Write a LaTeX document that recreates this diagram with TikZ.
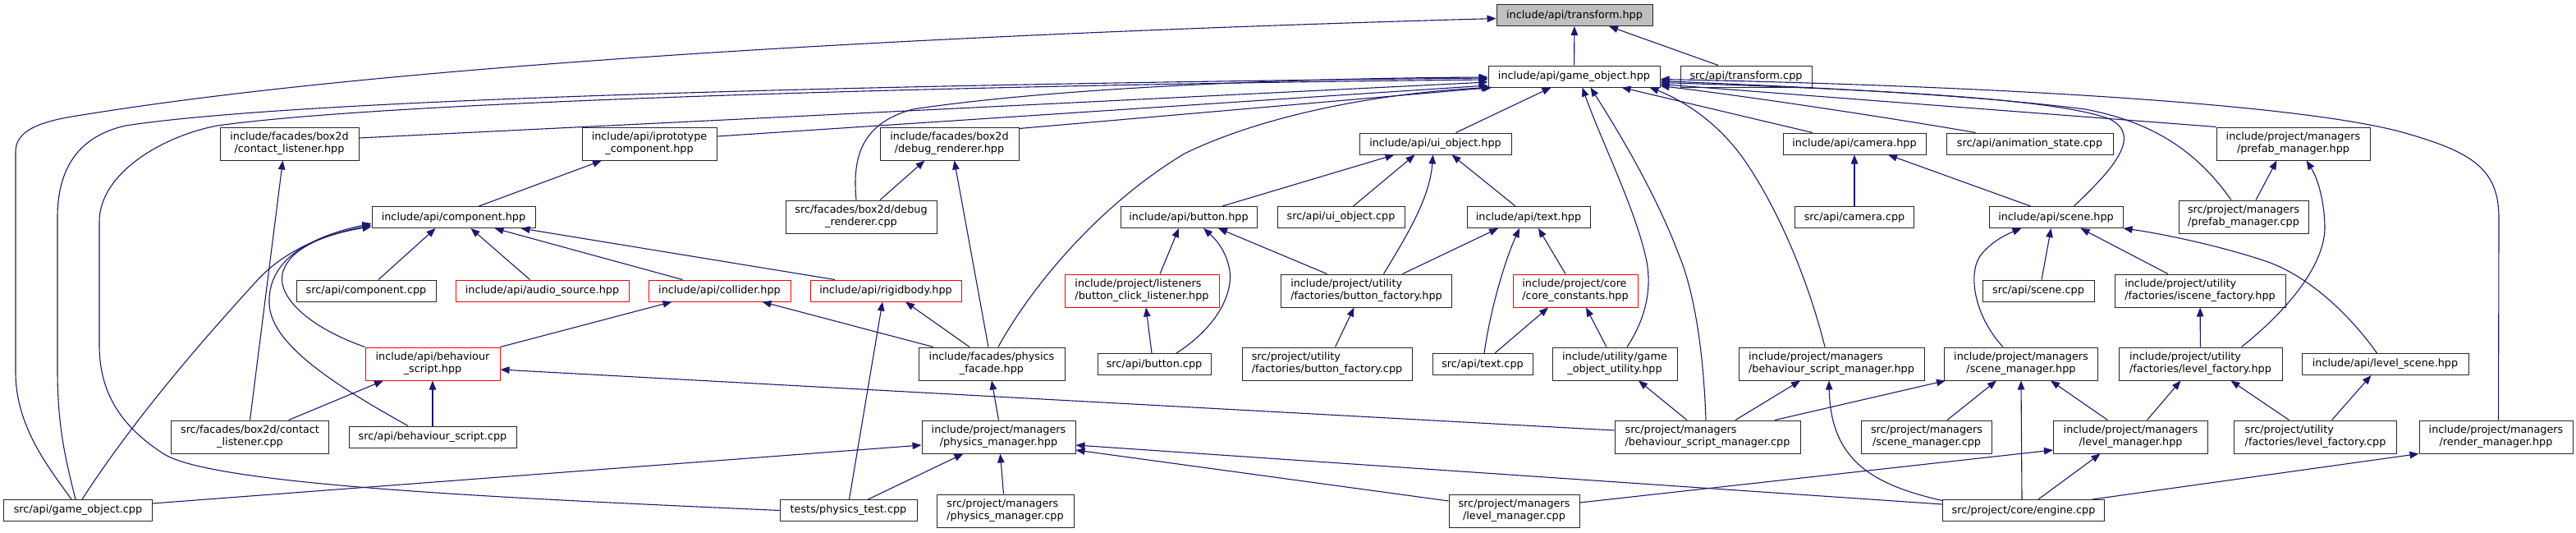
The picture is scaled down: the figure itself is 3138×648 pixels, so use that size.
\documentclass[tikz,border=0pt]{standalone}
\usepackage{fontspec}
\newfontfamily\dejavu{DejaVu Sans}
\usetikzlibrary{arrows.meta}
\definecolor{edgeblue}{HTML}{191970}
\definecolor{hitred}{HTML}{FF0000}
\definecolor{rootgray}{HTML}{BFBFBF}
\tikzset{
    base/.style={draw=black!85, line width=1pt, fill=white, inner sep=0pt, minimum height=26, align=center, font={\dejavu\fontsize{12.8}{15}\selectfont}},
    tall/.style={base, minimum height=40},
    hit/.style={draw=hitred},
    arrow/.style={draw=edgeblue, line width=1.1pt, -{Triangle[length=11pt,width=8.5pt]}}
}
\begin{document}
\begin{tikzpicture}[x=1pt, y=-1pt]
\useasboundingbox (0,0) rectangle (3138,648);
\node[base, fill=rootgray, minimum width=190] (transh) at (1918,18.5) {include/api/transform.hpp};
\node[base, minimum width=209] (goh) at (1917.5,93) {include/api/game\_object.hpp};
\node[base, minimum width=160] (transcpp) at (2127,93) {src/api/transform.cpp};
\node[tall, minimum width=169] (clh) at (352.5,175) {include/facades/box2d\\/contact\_listener.hpp};
\node[tall, minimum width=164] (iproto) at (791,175) {include/api/iprototype\\\_component.hpp};
\node[tall, minimum width=169] (drh) at (1156.5,175) {include/facades/box2d\\/debug\_renderer.hpp};
\node[base, minimum width=185] (uih) at (1748.5,175) {include/api/ui\_object.hpp};
\node[base, minimum width=174] (camh) at (2259,175) {include/api/camera.hpp};
\node[base, minimum width=203] (animcpp) at (2472.5,175) {src/api/animation\_state.cpp};
\node[tall, minimum width=187] (pmh) at (2793.5,175) {include/project/managers\\/prefab\_manager.hpp};
\node[base, minimum width=199] (comph) at (552.5,264.5) {include/api/component.hpp};
\node[tall, minimum width=184] (drcpp) at (1049,264) {src/facades/box2d/debug\\\_renderer.cpp};
\node[base, minimum width=166] (buth) at (1448,264.5) {include/api/button.hpp};
\node[base, minimum width=155] (uicpp) at (1633.5,264.5) {src/api/ui\_object.cpp};
\node[base, minimum width=150] (texth) at (1862,264.5) {include/api/text.hpp};
\node[base, minimum width=145] (camcpp) at (2259,264.5) {src/api/camera.cpp};
\node[base, minimum width=163] (scenh) at (2504.5,264.5) {include/api/scene.hpp};
\node[tall, minimum width=158, align=left] (pmcpp) at (2733,264) {src/project/managers\\/prefab\_manager.cpp};
\node[base, minimum width=170] (compcpp) at (446,354) {src/api/component.cpp};
\node[base, hit, minimum width=211] (audioh) at (660.5,354) {include/api/audio\_source.hpp};
\node[base, hit, minimum width=173] (collh) at (876.5,354) {include/api/collider.hpp};
\node[base, hit, minimum width=184] (rigidh) at (1079,354) {include/api/rigidbody.hpp};
\node[tall, hit, minimum width=188, align=left] (bclh) at (1391,354) {include/project/listeners\\/button\_click\_listener.hpp};
\node[tall, minimum width=208, align=left] (bfh) at (1664.5,354) {include/project/utility\\/factories/button\_factory.hpp};
\node[tall, hit, minimum width=152, align=left] (cch) at (1919,354) {include/project/core\\/core\_constants.hpp};
\node[base, minimum width=136] (scencpp) at (2483,354) {src/api/scene.cpp};
\node[tall, minimum width=208, align=left] (iscfh) at (2680,354) {include/project/utility\\/factories/iscene\_factory.hpp};
\node[tall, hit, minimum width=164] (bsh) at (527,443) {include/api/behaviour\\\_script.hpp};
\node[tall, minimum width=178] (pfh) at (1208,443) {include/facades/physics\\\_facade.hpp};
\node[base, minimum width=138] (butcpp) at (1406,443.5) {src/api/button.cpp};
\node[tall, minimum width=207, align=left] (bfcpp) at (1616.5,443) {src/project/utility\\/factories/button\_factory.cpp};
\node[base, minimum width=122] (textcpp) at (1806,443.5) {src/api/text.cpp};
\node[tall, minimum width=152] (gouh) at (1967,443) {include/utility/game\\\_object\_utility.hpp};
\node[tall, minimum width=226, align=left] (bsmh) at (2231,443) {include/project/managers\\/behaviour\_script\_manager.hpp};
\node[tall, minimum width=187] (smh) at (2462,443) {include/project/managers\\/scene\_manager.hpp};
\node[tall, minimum width=199, align=left] (lfh) at (2680.5,443) {include/project/utility\\/factories/level\_factory.hpp};
\node[base, minimum width=203] (lsh) at (2905.5,443.5) {include/api/level\_scene.hpp};
\node[tall, minimum width=192] (clcpp) at (304.5,532) {src/facades/box2d/contact\\\_listener.cpp};
\node[base, minimum width=204] (bscpp) at (527,532) {src/api/behaviour\_script.cpp};
\node[tall, minimum width=187] (phmh) at (1216.5,532) {include/project/managers\\/physics\_manager.hpp};
\node[tall, minimum width=226, align=left] (bsmcpp) at (2080,532) {src/project/managers\\/behaviour\_script\_manager.cpp};
\node[tall, minimum width=159] (smcpp) at (2347,532) {src/project/managers\\/scene\_manager.cpp};
\node[tall, minimum width=188] (lmh) at (2595.5,532) {include/project/managers\\/level\_manager.hpp};
\node[tall, minimum width=198, align=left] (lfcpp) at (2820.5,532) {src/project/utility\\/factories/level\_factory.cpp};
\node[tall, minimum width=187] (rmh) at (3040.5,532) {include/project/managers\\/render\_manager.hpp};
\node[base, minimum width=181] (gocpp) at (95,621.5) {src/api/game\_object.cpp};
\node[base, minimum width=167] (ptcpp) at (1033.5,621.5) {tests/physics\_test.cpp};
\node[tall, minimum width=167, align=left] (phmcpp) at (1224.5,622) {src/project/managers\\/physics\_manager.cpp};
\node[tall, minimum width=159] (lmcpp) at (1844.5,622) {src/project/managers\\/level\_manager.cpp};
\node[base, minimum width=197] (engcpp) at (2465,621.5) {src/project/core/engine.cpp};
\draw[arrow] (goh) -- (transh);
\draw[arrow] ([xshift=-34pt]transcpp.north) -- ([xshift=42pt]transh.south);
\draw[arrow] ([xshift=-8pt]gocpp.north) .. controls (60,570) and (19,520) .. (19,453) -- (19,185) .. controls (19,160) and (45,148) .. (100,140) .. controls (500,75) and (1200,40) .. ([yshift=-4pt]transh.west);
\draw[arrow] ([xshift=-3pt]gocpp.north) .. controls (80,560) and (70,520) .. (70,450) -- (70,265) .. controls (70,200) and (100,165) .. (153,153) .. controls (400,115) and (1300,100) .. ([yshift=-2pt]goh.west);
\draw[arrow] (ptcpp.west) .. controls (600,606) and (260,590) .. (200,553) .. controls (140,515) and (121,470) .. (121,420) -- (121,270) .. controls (121,210) and (200,165) .. (265,153) .. controls (500,120) and (1300,102) .. ([yshift=-4pt]goh.west);
\draw[arrow] ([yshift=7pt]clh.east) -- ([yshift=-7pt]goh.west);
\draw[arrow] ([yshift=9pt]iproto.east) -- ([yshift=-11pt]goh.west);
\draw[arrow] ([yshift=-2pt]drh.north east) -- ([xshift=5pt]goh.south west);
\draw[arrow] ([xshift=-6pt]drcpp.north) .. controls (1038,190) and (1050,150) .. (1112,133) .. controls (1300,105) and (1600,95) .. ([yshift=-1pt]goh.west);
\draw[arrow] ([xshift=8pt]pfh.north) .. controls (1250,360) and (1330,255) .. (1443,187) .. controls (1550,135) and (1700,112) .. ([xshift=3pt]goh.south west);
\draw[arrow] ([xshift=25pt]uih.north) -- ([xshift=-28pt]goh.south);
\draw[arrow] ([xshift=15pt]gouh.north) .. controls (2010,380) and (2012,340) .. (2004,310) .. controls (1990,250) and (1950,170) .. ([xshift=10pt]goh.south);
\draw[arrow] ([xshift=-2pt]bsmcpp.north) .. controls (2075,420) and (2062,350) .. (2045,310) .. controls (2015,230) and (1965,150) .. ([xshift=20pt]goh.south);
\draw[arrow] ([xshift=-51pt]camh.north) -- ([xshift=58pt]goh.south);
\draw[arrow] ([xshift=-8pt]bsmh.north) .. controls (2205,350) and (2170,260) .. (2125,195) .. controls (2090,145) and (2045,120) .. ([xshift=-13pt]goh.south east);
\draw[arrow] ([xshift=-66pt]animcpp.north) .. controls (2330,148) and (2150,120) .. ([yshift=2pt]goh.south east);
\draw[arrow] (pmh.north west) -- ([yshift=4pt]goh.south east);
\draw[arrow] ([xshift=22pt]scenh.north) .. controls (2575,205) and (2610,165) .. (2570,145) .. controls (2500,118) and (2250,108) .. ([yshift=6pt]goh.south east);
\draw[arrow] ([xshift=-15pt]pmcpp.north) .. controls (2680,190) and (2630,150) .. (2540,133) .. controls (2400,115) and (2200,106) .. ([yshift=8pt]goh.south east);
\draw[arrow] ([xshift=3pt]rmh.north) -- (3044,265) .. controls (3044,205) and (3010,185) .. (2930,162) .. controls (2800,125) and (2400,104) .. ([yshift=10pt]goh.south east);
\draw[arrow] ([xshift=31pt]comph.north) -- ([xshift=-58pt]iproto.south);
\draw[arrow] ([xshift=15pt]compcpp.north) -- ([xshift=-22pt]comph.south);
\draw[arrow] ([xshift=-15pt]audioh.north) -- ([xshift=21pt]comph.south);
\draw[arrow] ([xshift=-45pt]collh.north) -- ([xshift=50pt]comph.south);
\draw[arrow] ([xshift=-62pt]rigidh.north) -- ([xshift=-18pt]comph.south east);
\draw[arrow] (bsh.north west) .. controls (375,398) and (335,360) .. (345,330) .. controls (355,300) and (400,285) .. ([yshift=4pt]comph.south west);
\draw[arrow] ([xshift=-30pt]bscpp.north) .. controls (410,470) and (330,420) .. (328,370) .. controls (326,320) and (370,290) .. ([yshift=6pt]comph.south west);
\draw[arrow] ([xshift=5pt]gocpp.north) .. controls (170,500) and (260,400) .. (310,345) .. controls (345,305) and (395,285) .. ([yshift=2pt]comph.south west);
\draw[arrow] (clcpp.north) -- ([xshift=-8pt]clh.south);
\draw[arrow] ([xshift=47pt]clcpp.north) -- ([xshift=-60pt]bsh.south);
\draw[arrow] (bscpp) -- (bsh);
\draw[arrow] (bsh.north east) -- ([xshift=-58pt]collh.south);
\draw[arrow] ([xshift=-71pt]pfh.north) -- ([xshift=52pt]collh.south);
\draw[arrow] ([xshift=-27pt]pfh.north) -- ([xshift=24pt]rigidh.south);
\draw[arrow] ([xshift=1pt]ptcpp.north) -- ([xshift=-4pt]rigidh.south);
\draw[arrow] ([xshift=-4pt]pfh.north) -- ([xshift=6pt]drh.south);
\draw[arrow] ([xshift=23pt]drcpp.north) -- ([xshift=-30pt]drh.south);
\draw[arrow] (phmh.north) -- (pfh.south);
\draw[arrow] ([xshift=24pt]ptcpp.north) -- ([xshift=-43pt]phmh.south);
\draw[arrow] ([xshift=-2pt]phmcpp.north) -- ([xshift=2pt]phmh.south);
\draw[arrow] ([yshift=8.5pt]gocpp.east) -- ([yshift=-10pt]phmh.west);
\draw[arrow] ([yshift=7.5pt]engcpp.west) -- ([yshift=-10pt]phmh.east);
\draw[arrow] ([yshift=12pt]lmcpp.west) -- ([yshift=-16pt]phmh.east);
\draw[arrow] ([yshift=8pt]bsmcpp.west) -- ([yshift=-7pt]bsh.east);
\draw[arrow] ([xshift=-25pt]bsmcpp.north) -- ([xshift=29pt]gouh.south);
\draw[arrow] ([xshift=34pt]bsmcpp.north) -- ([xshift=-38pt]bsmh.south);
\draw[arrow] ([xshift=82pt]bsmcpp.north) -- ([xshift=2pt]smh.south west);
\draw[arrow] ([yshift=12pt]engcpp.west) .. controls (2280,590) and (2230,560) .. ([xshift=-3pt]bsmh.south);
\draw[arrow] ([xshift=25pt]smcpp.north) -- ([xshift=-30pt]smh.south);
\draw[arrow] ([xshift=-28pt]lmh.north) -- ([xshift=36pt]smh.south);
\draw[arrow] ([xshift=-2pt]engcpp.north) -- (smh.south);
\draw[arrow] ([xshift=18pt]engcpp.north) -- ([xshift=-37pt]lmh.south);
\draw[arrow] ([xshift=-15pt]engcpp.north east) -- (rmh.south west);
\draw[arrow] ([yshift=10pt]lmcpp.east) -- ([yshift=-16pt]lmh.west);
\draw[arrow] ([xshift=-22pt]smh.north) .. controls (2405,385) and (2395,330) .. (2415,308) .. controls (2428,293) and (2445,285) .. ([xshift=-42pt]scenh.south);
\draw[arrow] ([xshift=4pt]scencpp.north) -- ([xshift=-6pt]scenh.south);
\draw[arrow] ([xshift=-39pt]iscfh.north) -- ([xshift=30pt]scenh.south);
\draw[arrow] ([xshift=-10pt]lsh.north) .. controls (2860,380) and (2810,335) .. (2760,318) .. controls (2700,298) and (2630,284) .. (scenh.south east);
\draw[arrow] ([xshift=-31pt]scenh.north) -- ([xshift=41pt]camh.south);
\draw[arrow] (camcpp) -- (camh);
\draw[arrow] ([xshift=15pt]pmcpp.north) -- ([xshift=-20pt]pmh.south);
\draw[arrow] ([xshift=50pt]lfh.north) .. controls (2790,375) and (2833,320) .. (2832,275) .. controls (2831,240) and (2822,215) .. ([xshift=16pt]pmh.south);
\draw[arrow] (lfh) -- (iscfh);
\draw[arrow] ([xshift=20pt]lmh.north) -- ([xshift=-24pt]lfh.south);
\draw[arrow] ([xshift=-32pt]lfcpp.north) -- ([xshift=37pt]lfh.south);
\draw[arrow] ([xshift=20pt]lfcpp.north) -- ([xshift=-17pt]lsh.south);
\draw[arrow] ([xshift=15pt]uicpp.north) -- ([xshift=-25pt]uih.south);
\draw[arrow] ([xshift=41pt]buth.north) -- ([xshift=-50pt]uih.south);
\draw[arrow] ([xshift=21pt]bfh.north) .. controls (1715,285) and (1742,240) .. ([xshift=-3pt]uih.south);
\draw[arrow] ([xshift=-16pt]texth.north) -- ([xshift=20pt]uih.south);
\draw[arrow] ([xshift=22pt]bclh.north) -- ([xshift=-12pt]buth.south);
\draw[arrow] ([xshift=27pt]butcpp.north) .. controls (1480,400) and (1502,360) .. (1498,330) .. controls (1495,310) and (1485,295) .. ([xshift=18pt]buth.south);
\draw[arrow] ([xshift=-48pt]bfh.north) -- ([xshift=36pt]buth.south);
\draw[arrow] ([xshift=-3pt]butcpp.north) -- ([xshift=5pt]bclh.south);
\draw[arrow] ([xshift=10pt]bfcpp.north) -- ([xshift=-15pt]bfh.south);
\draw[arrow] ([xshift=44pt]bfh.north) -- ([xshift=-37pt]texth.south);
\draw[arrow] ([xshift=2pt]textcpp.north) .. controls (1815,380) and (1832,320) .. ([xshift=-11pt]texth.south);
\draw[arrow] ([xshift=-12pt]cch.north) -- ([xshift=12pt]texth.south);
\draw[arrow] ([xshift=15pt]textcpp.north) -- ([xshift=-33pt]cch.south);
\draw[arrow] ([xshift=-10pt]gouh.north) -- ([xshift=13pt]cch.south);
\end{tikzpicture}
\end{document}
